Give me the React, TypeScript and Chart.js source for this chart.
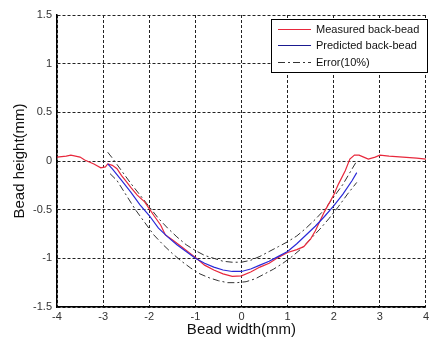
import React, { useEffect, useRef } from "react";
import { Chart, registerables } from "chart.js";

Chart.register(...registerables);

// Measured back-bead
const measuredX = [-4.0, -3.8, -3.7, -3.5, -3.4, -3.2, -3.05, -2.95, -2.9, -2.8, -2.7, -2.6, -2.5, -2.4, -2.26, -2.1, -2.0, -1.9, -1.75, -1.65, -1.5, -1.3, -1.0, -0.8, -0.6, -0.4, -0.2, 0.0, 0.2, 0.4, 0.6, 0.8, 1.0, 1.2, 1.35, 1.5, 1.6, 1.7, 1.8, 2.0, 2.1, 2.25, 2.35, 2.45, 2.55, 2.65, 2.75, 2.9, 3.0, 3.2, 3.5, 3.8, 4.0];
const measuredY = [0.04, 0.05, 0.06, 0.04, 0.01, -0.03, -0.07, -0.06, -0.03, -0.045, -0.08, -0.15, -0.21, -0.27, -0.35, -0.42, -0.49, -0.56, -0.66, -0.76, -0.81, -0.88, -0.99, -1.07, -1.12, -1.16, -1.185, -1.18, -1.14, -1.09, -1.05, -0.99, -0.94, -0.91, -0.88, -0.8, -0.72, -0.62, -0.52, -0.35, -0.24, -0.1, 0.02, 0.06, 0.06, 0.04, 0.02, 0.04, 0.06, 0.05, 0.04, 0.03, 0.02];

// Predicted back-bead
const predictedX = [-2.9, -2.8, -2.6, -2.4, -2.2, -2.0, -1.8, -1.6, -1.4, -1.2, -1.0, -0.8, -0.6, -0.4, -0.2, 0.0, 0.2, 0.4, 0.6, 0.8, 1.0, 1.2, 1.4, 1.6, 1.8, 2.0, 2.2, 2.4, 2.5];
const predictedY = [-0.03, -0.08, -0.2, -0.32, -0.45, -0.56, -0.69, -0.78, -0.86, -0.93, -1.0, -1.05, -1.09, -1.12, -1.135, -1.135, -1.11, -1.07, -1.03, -0.98, -0.93, -0.85, -0.76, -0.67, -0.57, -0.46, -0.34, -0.2, -0.12];

// Error(10%) upper bound
const upperX = [-2.9, -2.8, -2.6, -2.4, -2.2, -2.0, -1.8, -1.6, -1.4, -1.2, -1.0, -0.8, -0.6, -0.4, -0.2, 0.0, 0.2, 0.4, 0.6, 0.8, 1.0, 1.2, 1.4, 1.6, 1.8, 2.0, 2.2, 2.4, 2.5];
const upperY = [0.09, 0.03, -0.1, -0.23, -0.35, -0.47, -0.59, -0.69, -0.78, -0.86, -0.92, -0.97, -1.0, -1.03, -1.04, -1.04, -1.02, -0.98, -0.93, -0.88, -0.83, -0.77, -0.69, -0.6, -0.5, -0.37, -0.24, -0.08, 0.0];

// Error(10%) lower bound
const lowerX = [-2.85, -2.7, -2.5, -2.3, -2.1, -1.9, -1.7, -1.5, -1.3, -1.1, -0.9, -0.7, -0.5, -0.3, -0.1, 0.1, 0.3, 0.5, 0.7, 0.9, 1.1, 1.3, 1.5, 1.7, 1.9, 2.1, 2.3, 2.5];
const lowerY = [-0.13, -0.2, -0.35, -0.5, -0.63, -0.76, -0.86, -0.95, -1.03, -1.1, -1.16, -1.2, -1.23, -1.25, -1.25, -1.24, -1.21, -1.16, -1.11, -1.05, -0.98, -0.9, -0.8, -0.7, -0.59, -0.47, -0.34, -0.22];

const xTicks = [-4, -3, -2, -1, 0, 1, 2, 3, 4];
const yTicks = [-1.5, -1, -0.5, 0, 0.5, 1, 1.5];

const legendLabels = ["Measured back-bead", "Predicted back-bead", "Error(10%)"];

const RED = "#e8283c";
const BLUE = "#2a2ad8";
const DARK = "#333333";
const ERR_DASH = [7, 3, 2, 3];
const FONT = "'Liberation Sans', Arial, sans-serif";

const toPts = (xs: number[], ys: number[]) => xs.map((x, i) => ({ x, y: ys[i] }));

const legendPlugin = {
  id: "boxLegend",
  afterDraw(chart: any) {
    const ctx = chart.ctx;
    const x0 = 271, y0 = 19, w = 156, h = 53;
    ctx.save();
    ctx.fillStyle = "#ffffff";
    ctx.fillRect(x0, y0, w, h);
    ctx.strokeStyle = "#000000";
    ctx.lineWidth = 1;
    ctx.setLineDash([]);
    ctx.strokeRect(x0 + 0.5, y0 + 0.5, w, h);
    const rows = [29.5, 45.5, 62.5];
    const colors = [RED, "#1a1a90", DARK];
    const dashes = [[], [], ERR_DASH];
    ctx.font = "11px " + FONT;
    ctx.textBaseline = "middle";
    ctx.textAlign = "left";
    rows.forEach((yy, i) => {
      ctx.beginPath();
      ctx.setLineDash(dashes[i]);
      ctx.strokeStyle = colors[i];
      ctx.lineWidth = 1.2;
      ctx.moveTo(278, yy);
      ctx.lineTo(311, yy);
      ctx.stroke();
      ctx.setLineDash([]);
      ctx.fillStyle = "#111111";
      ctx.fillText(legendLabels[i], 316, yy);
    });
    ctx.restore();
  },
};

export default function App() {
  const ref = useRef<HTMLCanvasElement | null>(null);
  useEffect(() => {
    document.body.style.margin = "0";
    if (!ref.current) return;
    const chart = new Chart(ref.current, {
      type: "line",
      data: {
        datasets: [
          {
            label: legendLabels[1],
            data: toPts(predictedX, predictedY),
            borderColor: BLUE,
            borderWidth: 1.2,
            pointRadius: 0,
            tension: 0,
          },
          {
            label: legendLabels[0],
            data: toPts(measuredX, measuredY),
            borderColor: RED,
            borderWidth: 1.2,
            pointRadius: 0,
            tension: 0,
          },
          {
            label: legendLabels[2],
            data: toPts(upperX, upperY),
            borderColor: DARK,
            borderWidth: 1,
            borderDash: ERR_DASH,
            pointRadius: 0,
            tension: 0,
          },
          {
            label: legendLabels[2] + " lower",
            data: toPts(lowerX, lowerY),
            borderColor: DARK,
            borderWidth: 1,
            borderDash: ERR_DASH,
            pointRadius: 0,
            tension: 0,
          },
        ],
      },
      options: {
        responsive: false,
        animation: false,
        layout: { padding: { top: 15, right: 1, left: 0, bottom: 0 } },
        plugins: { legend: { display: false }, tooltip: { enabled: false } },
        scales: {
          x: {
            type: "linear",
            min: -4,
            max: 4,
            afterBuildTicks: (s: any) => {
              s.ticks = xTicks.map((v) => ({ value: v }));
            },
            afterFit: (s: any) => {
              s.height = 34;
            },
            ticks: {
              padding: 3,
              color: "#333333",
              font: { family: FONT, size: 11 },
              callback: (v: any) => String(v),
            },
            grid: { color: "#222222", lineWidth: 1, drawTicks: false },
            border: { display: true, color: "#000000", width: 1.5, dash: [3, 2] },
            title: {
              display: true,
              text: "Bead width(mm)",
              color: "#111111",
              font: { family: FONT, size: 15 },
              padding: { top: 0, bottom: 2 },
            },
          },
          y: {
            type: "linear",
            min: -1.5,
            max: 1.5,
            afterBuildTicks: (s: any) => {
              s.ticks = yTicks.map((v) => ({ value: v }));
            },
            afterFit: (s: any) => {
              s.width = 57;
            },
            ticks: {
              padding: 5,
              color: "#333333",
              font: { family: FONT, size: 11 },
              callback: (v: any) => String(v),
            },
            grid: { color: "#222222", lineWidth: 1, drawTicks: false },
            border: { display: true, color: "#000000", width: 1.5, dash: [3, 2] },
            title: {
              display: true,
              text: "Bead height(mm)",
              color: "#111111",
              font: { family: FONT, size: 15 },
              padding: { top: 11, bottom: 0 },
            },
          },
        },
      },
      plugins: [legendPlugin],
    });
    return () => chart.destroy();
  }, []);
  return (
    <div style={{ width: 432, height: 341, background: "#fff" }}>
      <canvas ref={ref} width={432} height={341} />
    </div>
  );
}
